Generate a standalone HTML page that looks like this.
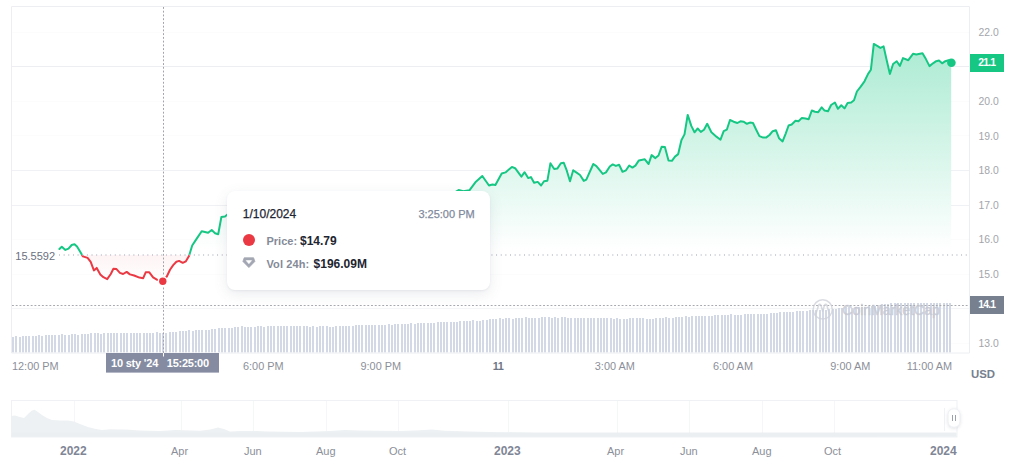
<!DOCTYPE html>
<html><head><meta charset="utf-8"><title>Chart</title>
<style>
html,body{margin:0;padding:0;background:#fff;}
body{width:1024px;height:473px;position:relative;overflow:hidden;font-family:"Liberation Sans",sans-serif;}
svg{position:absolute;left:0;top:0;}
.yl{position:absolute;left:978.5px;font-size:10.4px;line-height:14px;color:#a3a5ab;white-space:nowrap;}
.xl{position:absolute;top:359px;font-size:10.9px;line-height:14px;color:#8c8f99;white-space:nowrap;}
.xl.b{font-weight:bold;color:#707685;letter-spacing:-0.6px;}
.nl{position:absolute;top:444px;font-size:11px;line-height:14px;color:#8c8f99;white-space:nowrap;}
.nl.b{font-weight:bold;color:#7f8696;font-size:12px;}
.tag{position:absolute;left:970px;width:33.5px;height:17.5px;color:#fff;font-weight:bold;font-size:10.4px;line-height:17.5px;text-align:center;letter-spacing:-0.8px;}
#tip{position:absolute;left:227px;top:190.8px;width:262.8px;height:99.2px;background:#fff;border-radius:8px;box-shadow:0 1px 2px rgba(128,138,157,.12),0 4px 14px rgba(88,102,126,.12);}
#tip div{position:absolute;white-space:nowrap;line-height:14px;}
</style></head><body>
<svg width="1024" height="473" viewBox="0 0 1024 473">
<defs>
<linearGradient id="gg" gradientUnits="userSpaceOnUse" x1="0" y1="40" x2="0" y2="250"><stop offset="0" stop-color="#16c784" stop-opacity="0.37"/><stop offset="1" stop-color="#16c784" stop-opacity="0"/></linearGradient>
<linearGradient id="rg" gradientUnits="userSpaceOnUse" x1="0" y1="255" x2="0" y2="284"><stop offset="0" stop-color="#ea3943" stop-opacity="0.055"/><stop offset="1" stop-color="#ea3943" stop-opacity="0.0"/></linearGradient>
<filter id="sh" x="-50%" y="-50%" width="200%" height="200%"><feDropShadow dx="0" dy="1" stdDeviation="1.5" flood-color="#58667e" flood-opacity="0.18"/></filter>
<clipPath id="up"><rect x="0" y="0" width="1024" height="255.0"/></clipPath>
<clipPath id="dn"><rect x="0" y="255.0" width="1024" height="120"/></clipPath>
</defs>
<line x1="12" x2="969" y1="343.5" y2="343.5" stroke="#eceef2" stroke-opacity="0.18" stroke-width="1"/><line x1="12" x2="969" y1="308.5" y2="308.5" stroke="#eceef2" stroke-opacity="0.6" stroke-width="1"/><line x1="12" x2="969" y1="274.5" y2="274.5" stroke="#eceef2" stroke-opacity="0.18" stroke-width="1"/><line x1="12" x2="969" y1="239.5" y2="239.5" stroke="#eceef2" stroke-opacity="0.18" stroke-width="1"/><line x1="12" x2="969" y1="205.5" y2="205.5" stroke="#eceef2" stroke-opacity="0.85" stroke-width="1"/><line x1="12" x2="969" y1="170.5" y2="170.5" stroke="#eceef2" stroke-opacity="0.85" stroke-width="1"/><line x1="12" x2="969" y1="135.5" y2="135.5" stroke="#eceef2" stroke-opacity="0.18" stroke-width="1"/><line x1="12" x2="969" y1="101.5" y2="101.5" stroke="#eceef2" stroke-opacity="0.18" stroke-width="1"/><line x1="12" x2="969" y1="66.5" y2="66.5" stroke="#eceef2" stroke-opacity="1.0" stroke-width="1"/><line x1="12" x2="969" y1="32.5" y2="32.5" stroke="#eceef2" stroke-opacity="0.18" stroke-width="1"/>
<g fill="#cdd4e2" fill-opacity="0.9"><rect x="12" y="337" width="2" height="15.5"/><rect x="15" y="336" width="2" height="16.5"/><rect x="19" y="337" width="2" height="15.5"/><rect x="22" y="336" width="2" height="16.5"/><rect x="25" y="336" width="2" height="16.5"/><rect x="28" y="336" width="2" height="16.5"/><rect x="32" y="336" width="2" height="16.5"/><rect x="35" y="336" width="2" height="16.5"/><rect x="38" y="335" width="2" height="17.5"/><rect x="41" y="336" width="2" height="16.5"/><rect x="45" y="335" width="2" height="17.5"/><rect x="48" y="335" width="2" height="17.5"/><rect x="51" y="335" width="2" height="17.5"/><rect x="54" y="335" width="2" height="17.5"/><rect x="58" y="335" width="2" height="17.5"/><rect x="61" y="334" width="2" height="18.5"/><rect x="64" y="335" width="2" height="17.5"/><rect x="68" y="335" width="2" height="17.5"/><rect x="71" y="334" width="2" height="18.5"/><rect x="74" y="334" width="2" height="18.5"/><rect x="77" y="335" width="2" height="17.5"/><rect x="81" y="334" width="2" height="18.5"/><rect x="84" y="334" width="2" height="18.5"/><rect x="87" y="334" width="2" height="18.5"/><rect x="90" y="333" width="2" height="19.5"/><rect x="94" y="333" width="2" height="19.5"/><rect x="97" y="333" width="2" height="19.5"/><rect x="100" y="334" width="2" height="18.5"/><rect x="103" y="333" width="2" height="19.5"/><rect x="107" y="333" width="2" height="19.5"/><rect x="110" y="333" width="2" height="19.5"/><rect x="113" y="333" width="2" height="19.5"/><rect x="116" y="333" width="2" height="19.5"/><rect x="120" y="333" width="2" height="19.5"/><rect x="123" y="333" width="2" height="19.5"/><rect x="126" y="333" width="2" height="19.5"/><rect x="130" y="333" width="2" height="19.5"/><rect x="133" y="333" width="2" height="19.5"/><rect x="136" y="333" width="2" height="19.5"/><rect x="139" y="333" width="2" height="19.5"/><rect x="143" y="333" width="2" height="19.5"/><rect x="146" y="333" width="2" height="19.5"/><rect x="149" y="333" width="2" height="19.5"/><rect x="152" y="333" width="2" height="19.5"/><rect x="156" y="332" width="2" height="20.5"/><rect x="159" y="333" width="2" height="19.5"/><rect x="162" y="333" width="2" height="19.5"/><rect x="165" y="333" width="2" height="19.5"/><rect x="169" y="332" width="2" height="20.5"/><rect x="172" y="332" width="2" height="20.5"/><rect x="175" y="332" width="2" height="20.5"/><rect x="179" y="331" width="2" height="21.5"/><rect x="182" y="331" width="2" height="21.5"/><rect x="185" y="331" width="2" height="21.5"/><rect x="188" y="330" width="2" height="22.5"/><rect x="192" y="331" width="2" height="21.5"/><rect x="195" y="330" width="2" height="22.5"/><rect x="198" y="330" width="2" height="22.5"/><rect x="201" y="330" width="2" height="22.5"/><rect x="205" y="330" width="2" height="22.5"/><rect x="208" y="330" width="2" height="22.5"/><rect x="211" y="329" width="2" height="23.5"/><rect x="214" y="329" width="2" height="23.5"/><rect x="218" y="328" width="2" height="24.5"/><rect x="221" y="328" width="2" height="24.5"/><rect x="224" y="328" width="2" height="24.5"/><rect x="228" y="328" width="2" height="24.5"/><rect x="231" y="328" width="2" height="24.5"/><rect x="234" y="327" width="2" height="25.5"/><rect x="237" y="327" width="2" height="25.5"/><rect x="241" y="326" width="2" height="26.5"/><rect x="244" y="327" width="2" height="25.5"/><rect x="247" y="327" width="2" height="25.5"/><rect x="250" y="327" width="2" height="25.5"/><rect x="254" y="327" width="2" height="25.5"/><rect x="257" y="326" width="2" height="26.5"/><rect x="260" y="326" width="2" height="26.5"/><rect x="263" y="327" width="2" height="25.5"/><rect x="267" y="326" width="2" height="26.5"/><rect x="270" y="326" width="2" height="26.5"/><rect x="273" y="326" width="2" height="26.5"/><rect x="277" y="326" width="2" height="26.5"/><rect x="280" y="326" width="2" height="26.5"/><rect x="283" y="326" width="2" height="26.5"/><rect x="286" y="326" width="2" height="26.5"/><rect x="290" y="326" width="2" height="26.5"/><rect x="293" y="326" width="2" height="26.5"/><rect x="296" y="326" width="2" height="26.5"/><rect x="299" y="326" width="2" height="26.5"/><rect x="303" y="326" width="2" height="26.5"/><rect x="306" y="326" width="2" height="26.5"/><rect x="309" y="327" width="2" height="25.5"/><rect x="312" y="326" width="2" height="26.5"/><rect x="316" y="327" width="2" height="25.5"/><rect x="319" y="326" width="2" height="26.5"/><rect x="322" y="326" width="2" height="26.5"/><rect x="326" y="326" width="2" height="26.5"/><rect x="329" y="327" width="2" height="25.5"/><rect x="332" y="327" width="2" height="25.5"/><rect x="335" y="326" width="2" height="26.5"/><rect x="339" y="326" width="2" height="26.5"/><rect x="342" y="326" width="2" height="26.5"/><rect x="345" y="326" width="2" height="26.5"/><rect x="348" y="326" width="2" height="26.5"/><rect x="352" y="326" width="2" height="26.5"/><rect x="355" y="325" width="2" height="27.5"/><rect x="358" y="325" width="2" height="27.5"/><rect x="361" y="325" width="2" height="27.5"/><rect x="365" y="325" width="2" height="27.5"/><rect x="368" y="325" width="2" height="27.5"/><rect x="371" y="325" width="2" height="27.5"/><rect x="374" y="325" width="2" height="27.5"/><rect x="378" y="325" width="2" height="27.5"/><rect x="381" y="325" width="2" height="27.5"/><rect x="384" y="325" width="2" height="27.5"/><rect x="388" y="324" width="2" height="28.5"/><rect x="391" y="325" width="2" height="27.5"/><rect x="394" y="324" width="2" height="28.5"/><rect x="397" y="324" width="2" height="28.5"/><rect x="401" y="324" width="2" height="28.5"/><rect x="404" y="324" width="2" height="28.5"/><rect x="407" y="324" width="2" height="28.5"/><rect x="410" y="323" width="2" height="29.5"/><rect x="414" y="324" width="2" height="28.5"/><rect x="417" y="323" width="2" height="29.5"/><rect x="420" y="323" width="2" height="29.5"/><rect x="423" y="323" width="2" height="29.5"/><rect x="427" y="323" width="2" height="29.5"/><rect x="430" y="323" width="2" height="29.5"/><rect x="433" y="323" width="2" height="29.5"/><rect x="437" y="322" width="2" height="30.5"/><rect x="440" y="322" width="2" height="30.5"/><rect x="443" y="322" width="2" height="30.5"/><rect x="446" y="322" width="2" height="30.5"/><rect x="450" y="322" width="2" height="30.5"/><rect x="453" y="322" width="2" height="30.5"/><rect x="456" y="322" width="2" height="30.5"/><rect x="459" y="321" width="2" height="31.5"/><rect x="463" y="321" width="2" height="31.5"/><rect x="466" y="321" width="2" height="31.5"/><rect x="469" y="321" width="2" height="31.5"/><rect x="472" y="320" width="2" height="32.5"/><rect x="476" y="321" width="2" height="31.5"/><rect x="479" y="321" width="2" height="31.5"/><rect x="482" y="320" width="2" height="32.5"/><rect x="486" y="320" width="2" height="32.5"/><rect x="489" y="319" width="2" height="33.5"/><rect x="492" y="319" width="2" height="33.5"/><rect x="495" y="319" width="2" height="33.5"/><rect x="499" y="318" width="2" height="34.5"/><rect x="502" y="319" width="2" height="33.5"/><rect x="505" y="318" width="2" height="34.5"/><rect x="508" y="318" width="2" height="34.5"/><rect x="512" y="319" width="2" height="33.5"/><rect x="515" y="318" width="2" height="34.5"/><rect x="518" y="318" width="2" height="34.5"/><rect x="521" y="318" width="2" height="34.5"/><rect x="525" y="317" width="2" height="35.5"/><rect x="528" y="318" width="2" height="34.5"/><rect x="531" y="318" width="2" height="34.5"/><rect x="534" y="318" width="2" height="34.5"/><rect x="538" y="318" width="2" height="34.5"/><rect x="541" y="317" width="2" height="35.5"/><rect x="544" y="317" width="2" height="35.5"/><rect x="548" y="317" width="2" height="35.5"/><rect x="551" y="318" width="2" height="34.5"/><rect x="554" y="317" width="2" height="35.5"/><rect x="557" y="318" width="2" height="34.5"/><rect x="561" y="317" width="2" height="35.5"/><rect x="564" y="317" width="2" height="35.5"/><rect x="567" y="318" width="2" height="34.5"/><rect x="570" y="318" width="2" height="34.5"/><rect x="574" y="318" width="2" height="34.5"/><rect x="577" y="318" width="2" height="34.5"/><rect x="580" y="318" width="2" height="34.5"/><rect x="583" y="318" width="2" height="34.5"/><rect x="587" y="318" width="2" height="34.5"/><rect x="590" y="318" width="2" height="34.5"/><rect x="593" y="318" width="2" height="34.5"/><rect x="597" y="318" width="2" height="34.5"/><rect x="600" y="318" width="2" height="34.5"/><rect x="603" y="318" width="2" height="34.5"/><rect x="606" y="318" width="2" height="34.5"/><rect x="610" y="318" width="2" height="34.5"/><rect x="613" y="319" width="2" height="33.5"/><rect x="616" y="318" width="2" height="34.5"/><rect x="619" y="319" width="2" height="33.5"/><rect x="623" y="319" width="2" height="33.5"/><rect x="626" y="319" width="2" height="33.5"/><rect x="629" y="318" width="2" height="34.5"/><rect x="632" y="318" width="2" height="34.5"/><rect x="636" y="318" width="2" height="34.5"/><rect x="639" y="318" width="2" height="34.5"/><rect x="642" y="318" width="2" height="34.5"/><rect x="646" y="319" width="2" height="33.5"/><rect x="649" y="319" width="2" height="33.5"/><rect x="652" y="319" width="2" height="33.5"/><rect x="655" y="318" width="2" height="34.5"/><rect x="659" y="318" width="2" height="34.5"/><rect x="662" y="318" width="2" height="34.5"/><rect x="665" y="317" width="2" height="35.5"/><rect x="668" y="318" width="2" height="34.5"/><rect x="672" y="318" width="2" height="34.5"/><rect x="675" y="317" width="2" height="35.5"/><rect x="678" y="317" width="2" height="35.5"/><rect x="681" y="317" width="2" height="35.5"/><rect x="685" y="316" width="2" height="36.5"/><rect x="688" y="317" width="2" height="35.5"/><rect x="691" y="316" width="2" height="36.5"/><rect x="695" y="316" width="2" height="36.5"/><rect x="698" y="316" width="2" height="36.5"/><rect x="701" y="316" width="2" height="36.5"/><rect x="704" y="316" width="2" height="36.5"/><rect x="708" y="316" width="2" height="36.5"/><rect x="711" y="316" width="2" height="36.5"/><rect x="714" y="315" width="2" height="37.5"/><rect x="717" y="315" width="2" height="37.5"/><rect x="721" y="315" width="2" height="37.5"/><rect x="724" y="315" width="2" height="37.5"/><rect x="727" y="315" width="2" height="37.5"/><rect x="730" y="314" width="2" height="38.5"/><rect x="734" y="315" width="2" height="37.5"/><rect x="737" y="315" width="2" height="37.5"/><rect x="740" y="315" width="2" height="37.5"/><rect x="744" y="314" width="2" height="38.5"/><rect x="747" y="314" width="2" height="38.5"/><rect x="750" y="314" width="2" height="38.5"/><rect x="753" y="314" width="2" height="38.5"/><rect x="757" y="314" width="2" height="38.5"/><rect x="760" y="314" width="2" height="38.5"/><rect x="763" y="314" width="2" height="38.5"/><rect x="766" y="314" width="2" height="38.5"/><rect x="770" y="313" width="2" height="39.5"/><rect x="773" y="313" width="2" height="39.5"/><rect x="776" y="313" width="2" height="39.5"/><rect x="779" y="312" width="2" height="40.5"/><rect x="783" y="312" width="2" height="40.5"/><rect x="786" y="312" width="2" height="40.5"/><rect x="789" y="312" width="2" height="40.5"/><rect x="792" y="312" width="2" height="40.5"/><rect x="796" y="311" width="2" height="41.5"/><rect x="799" y="311" width="2" height="41.5"/><rect x="802" y="311" width="2" height="41.5"/><rect x="806" y="311" width="2" height="41.5"/><rect x="809" y="310" width="2" height="42.5"/><rect x="812" y="310" width="2" height="42.5"/><rect x="815" y="310" width="2" height="42.5"/><rect x="819" y="310" width="2" height="42.5"/><rect x="822" y="309" width="2" height="43.5"/><rect x="825" y="310" width="2" height="42.5"/><rect x="828" y="309" width="2" height="43.5"/><rect x="832" y="309" width="2" height="43.5"/><rect x="835" y="309" width="2" height="43.5"/><rect x="838" y="308" width="2" height="44.5"/><rect x="841" y="308" width="2" height="44.5"/><rect x="845" y="307" width="2" height="45.5"/><rect x="848" y="307" width="2" height="45.5"/><rect x="851" y="308" width="2" height="44.5"/><rect x="855" y="307" width="2" height="45.5"/><rect x="858" y="307" width="2" height="45.5"/><rect x="861" y="307" width="2" height="45.5"/><rect x="864" y="307" width="2" height="45.5"/><rect x="868" y="306" width="2" height="46.5"/><rect x="871" y="306" width="2" height="46.5"/><rect x="874" y="306" width="2" height="46.5"/><rect x="877" y="305" width="2" height="47.5"/><rect x="881" y="304" width="2" height="48.5"/><rect x="884" y="304" width="2" height="48.5"/><rect x="887" y="304" width="2" height="48.5"/><rect x="890" y="303" width="2" height="49.5"/><rect x="894" y="303" width="2" height="49.5"/><rect x="897" y="303" width="2" height="49.5"/><rect x="900" y="303" width="2" height="49.5"/><rect x="904" y="303" width="2" height="49.5"/><rect x="907" y="303" width="2" height="49.5"/><rect x="910" y="303" width="2" height="49.5"/><rect x="913" y="303" width="2" height="49.5"/><rect x="917" y="303" width="2" height="49.5"/><rect x="920" y="303" width="2" height="49.5"/><rect x="923" y="303" width="2" height="49.5"/><rect x="926" y="303" width="2" height="49.5"/><rect x="930" y="303" width="2" height="49.5"/><rect x="933" y="303" width="2" height="49.5"/><rect x="936" y="303" width="2" height="49.5"/><rect x="939" y="303" width="2" height="49.5"/><rect x="943" y="303" width="2" height="49.5"/><rect x="946" y="303" width="2" height="49.5"/><rect x="949" y="303" width="2" height="49.5"/></g>
<path d="M59.4,249.0 L61.8,246.7 L65.4,249.9 L68.5,248.6 L71.7,245.0 L74.5,244.2 L77.0,246.5 L80.2,251.8 L82.9,256.4 L87.6,257.9 L90.7,261.9 L93.9,270.4 L96.7,267.9 L100.3,274.4 L103.4,277.2 L107.2,279.1 L110.8,274.0 L113.4,268.7 L116.5,269.1 L119.9,272.9 L123.1,274.0 L126.7,271.9 L129.9,274.4 L134.1,275.5 L139.4,277.6 L143.2,278.2 L145.7,272.3 L149.3,272.3 L153.1,277.4 L157.3,279.9 L162.6,281.2 L166.8,276.5 L170.0,269.8 L173.2,265.1 L176.4,261.7 L179.1,260.9 L182.7,262.8 L185.9,261.3 L189.0,256.0 L192.2,245.5 L196.4,239.1 L201.7,231.3 L208.1,232.8 L211.7,230.0 L215.1,233.2 L218.2,234.2 L221.4,216.9 L225.0,216.5 L227.1,214.8 L232.0,213.0 L238.0,215.0 L244.0,210.0 L250.0,212.0 L258.0,207.0 L266.0,209.0 L274.0,204.0 L282.0,206.0 L290.0,203.0 L298.0,205.0 L306.0,201.0 L314.0,203.0 L322.0,199.0 L330.0,202.0 L338.0,198.0 L346.0,200.0 L354.0,197.0 L362.0,199.0 L370.0,196.0 L378.0,198.0 L386.0,195.0 L394.0,197.0 L402.0,194.0 L410.0,196.0 L418.0,194.0 L426.0,196.0 L434.0,194.0 L442.0,195.0 L452.0,194.0 L458.6,190.0 L463.3,191.2 L469.6,190.2 L475.9,181.7 L482.3,176.0 L489.0,185.5 L492.4,184.5 L495.4,185.1 L501.7,173.5 L505.5,172.4 L511.9,166.9 L515.1,168.2 L521.4,176.7 L524.6,172.2 L528.2,178.1 L530.9,177.1 L534.1,182.8 L537.7,181.9 L541.1,185.5 L544.0,181.3 L547.4,180.7 L550.4,163.3 L554.2,169.0 L557.3,168.6 L560.9,163.3 L563.7,162.7 L566.8,170.7 L570.0,181.3 L573.2,170.3 L577.0,172.9 L580.0,175.0 L583.8,180.9 L586.3,179.6 L593.3,164.0 L596.4,166.1 L602.8,173.9 L606.0,172.4 L609.8,166.5 L612.7,164.4 L615.9,165.9 L619.1,164.8 L622.5,171.8 L626.0,170.3 L629.2,165.5 L632.4,167.6 L635.4,165.6 L638.9,160.4 L644.8,159.3 L648.6,164.0 L651.6,155.1 L655.4,158.1 L658.5,155.5 L661.7,146.7 L664.9,147.1 L668.5,160.4 L671.9,160.8 L675.0,156.6 L678.2,154.1 L681.4,140.3 L684.5,134.4 L687.7,114.9 L691.3,125.9 L694.5,132.3 L697.7,128.5 L700.8,131.9 L704.0,129.7 L707.2,123.8 L711.4,132.3 L716.7,136.9 L720.5,139.7 L723.7,131.2 L726.8,129.7 L730.0,120.0 L733.6,121.7 L737.4,123.0 L740.4,121.3 L743.5,121.7 L746.9,123.8 L749.9,122.6 L753.0,123.0 L756.2,129.7 L759.4,136.1 L763.2,137.6 L766.4,137.4 L769.5,135.0 L772.7,131.2 L775.9,130.2 L779.0,138.2 L782.6,141.4 L785.8,133.3 L788.6,125.5 L791.7,124.5 L795.5,120.7 L798.5,121.3 L801.9,117.9 L805.5,118.5 L808.7,119.2 L811.8,110.5 L815.0,111.8 L818.2,112.2 L821.7,107.4 L824.6,110.6 L828.0,111.3 L831.1,105.0 L834.9,102.5 L837.9,108.8 L841.3,105.2 L844.5,108.4 L847.6,102.9 L851.2,102.5 L854.0,100.3 L856.9,91.5 L860.7,86.6 L864.5,81.3 L868.1,73.9 L870.9,69.7 L873.8,43.9 L877.2,45.8 L880.4,47.9 L883.6,46.4 L886.7,60.2 L889.9,73.9 L893.1,64.0 L896.7,61.2 L899.9,65.9 L903.0,58.1 L908.3,60.2 L913.0,53.8 L916.3,54.5 L922.5,53.2 L925.9,59.1 L929.5,66.1 L933.0,63.3 L936.2,61.2 L939.0,60.6 L942.1,63.3 L945.3,61.2 L948.5,60.2 L951.2,62.7 L951.2,255.0 L59.4,255.0 Z" fill="#fff" clip-path="url(#up)"/>
<path d="M59.4,249.0 L61.8,246.7 L65.4,249.9 L68.5,248.6 L71.7,245.0 L74.5,244.2 L77.0,246.5 L80.2,251.8 L82.9,256.4 L87.6,257.9 L90.7,261.9 L93.9,270.4 L96.7,267.9 L100.3,274.4 L103.4,277.2 L107.2,279.1 L110.8,274.0 L113.4,268.7 L116.5,269.1 L119.9,272.9 L123.1,274.0 L126.7,271.9 L129.9,274.4 L134.1,275.5 L139.4,277.6 L143.2,278.2 L145.7,272.3 L149.3,272.3 L153.1,277.4 L157.3,279.9 L162.6,281.2 L166.8,276.5 L170.0,269.8 L173.2,265.1 L176.4,261.7 L179.1,260.9 L182.7,262.8 L185.9,261.3 L189.0,256.0 L192.2,245.5 L196.4,239.1 L201.7,231.3 L208.1,232.8 L211.7,230.0 L215.1,233.2 L218.2,234.2 L221.4,216.9 L225.0,216.5 L227.1,214.8 L232.0,213.0 L238.0,215.0 L244.0,210.0 L250.0,212.0 L258.0,207.0 L266.0,209.0 L274.0,204.0 L282.0,206.0 L290.0,203.0 L298.0,205.0 L306.0,201.0 L314.0,203.0 L322.0,199.0 L330.0,202.0 L338.0,198.0 L346.0,200.0 L354.0,197.0 L362.0,199.0 L370.0,196.0 L378.0,198.0 L386.0,195.0 L394.0,197.0 L402.0,194.0 L410.0,196.0 L418.0,194.0 L426.0,196.0 L434.0,194.0 L442.0,195.0 L452.0,194.0 L458.6,190.0 L463.3,191.2 L469.6,190.2 L475.9,181.7 L482.3,176.0 L489.0,185.5 L492.4,184.5 L495.4,185.1 L501.7,173.5 L505.5,172.4 L511.9,166.9 L515.1,168.2 L521.4,176.7 L524.6,172.2 L528.2,178.1 L530.9,177.1 L534.1,182.8 L537.7,181.9 L541.1,185.5 L544.0,181.3 L547.4,180.7 L550.4,163.3 L554.2,169.0 L557.3,168.6 L560.9,163.3 L563.7,162.7 L566.8,170.7 L570.0,181.3 L573.2,170.3 L577.0,172.9 L580.0,175.0 L583.8,180.9 L586.3,179.6 L593.3,164.0 L596.4,166.1 L602.8,173.9 L606.0,172.4 L609.8,166.5 L612.7,164.4 L615.9,165.9 L619.1,164.8 L622.5,171.8 L626.0,170.3 L629.2,165.5 L632.4,167.6 L635.4,165.6 L638.9,160.4 L644.8,159.3 L648.6,164.0 L651.6,155.1 L655.4,158.1 L658.5,155.5 L661.7,146.7 L664.9,147.1 L668.5,160.4 L671.9,160.8 L675.0,156.6 L678.2,154.1 L681.4,140.3 L684.5,134.4 L687.7,114.9 L691.3,125.9 L694.5,132.3 L697.7,128.5 L700.8,131.9 L704.0,129.7 L707.2,123.8 L711.4,132.3 L716.7,136.9 L720.5,139.7 L723.7,131.2 L726.8,129.7 L730.0,120.0 L733.6,121.7 L737.4,123.0 L740.4,121.3 L743.5,121.7 L746.9,123.8 L749.9,122.6 L753.0,123.0 L756.2,129.7 L759.4,136.1 L763.2,137.6 L766.4,137.4 L769.5,135.0 L772.7,131.2 L775.9,130.2 L779.0,138.2 L782.6,141.4 L785.8,133.3 L788.6,125.5 L791.7,124.5 L795.5,120.7 L798.5,121.3 L801.9,117.9 L805.5,118.5 L808.7,119.2 L811.8,110.5 L815.0,111.8 L818.2,112.2 L821.7,107.4 L824.6,110.6 L828.0,111.3 L831.1,105.0 L834.9,102.5 L837.9,108.8 L841.3,105.2 L844.5,108.4 L847.6,102.9 L851.2,102.5 L854.0,100.3 L856.9,91.5 L860.7,86.6 L864.5,81.3 L868.1,73.9 L870.9,69.7 L873.8,43.9 L877.2,45.8 L880.4,47.9 L883.6,46.4 L886.7,60.2 L889.9,73.9 L893.1,64.0 L896.7,61.2 L899.9,65.9 L903.0,58.1 L908.3,60.2 L913.0,53.8 L916.3,54.5 L922.5,53.2 L925.9,59.1 L929.5,66.1 L933.0,63.3 L936.2,61.2 L939.0,60.6 L942.1,63.3 L945.3,61.2 L948.5,60.2 L951.2,62.7 L951.2,255.0 L59.4,255.0 Z" fill="url(#gg)" clip-path="url(#up)"/>
<path d="M59.4,249.0 L61.8,246.7 L65.4,249.9 L68.5,248.6 L71.7,245.0 L74.5,244.2 L77.0,246.5 L80.2,251.8 L82.9,256.4 L87.6,257.9 L90.7,261.9 L93.9,270.4 L96.7,267.9 L100.3,274.4 L103.4,277.2 L107.2,279.1 L110.8,274.0 L113.4,268.7 L116.5,269.1 L119.9,272.9 L123.1,274.0 L126.7,271.9 L129.9,274.4 L134.1,275.5 L139.4,277.6 L143.2,278.2 L145.7,272.3 L149.3,272.3 L153.1,277.4 L157.3,279.9 L162.6,281.2 L166.8,276.5 L170.0,269.8 L173.2,265.1 L176.4,261.7 L179.1,260.9 L182.7,262.8 L185.9,261.3 L189.0,256.0 L192.2,245.5 L196.4,239.1 L201.7,231.3 L208.1,232.8 L211.7,230.0 L215.1,233.2 L218.2,234.2 L221.4,216.9 L225.0,216.5 L227.1,214.8 L232.0,213.0 L238.0,215.0 L244.0,210.0 L250.0,212.0 L258.0,207.0 L266.0,209.0 L274.0,204.0 L282.0,206.0 L290.0,203.0 L298.0,205.0 L306.0,201.0 L314.0,203.0 L322.0,199.0 L330.0,202.0 L338.0,198.0 L346.0,200.0 L354.0,197.0 L362.0,199.0 L370.0,196.0 L378.0,198.0 L386.0,195.0 L394.0,197.0 L402.0,194.0 L410.0,196.0 L418.0,194.0 L426.0,196.0 L434.0,194.0 L442.0,195.0 L452.0,194.0 L458.6,190.0 L463.3,191.2 L469.6,190.2 L475.9,181.7 L482.3,176.0 L489.0,185.5 L492.4,184.5 L495.4,185.1 L501.7,173.5 L505.5,172.4 L511.9,166.9 L515.1,168.2 L521.4,176.7 L524.6,172.2 L528.2,178.1 L530.9,177.1 L534.1,182.8 L537.7,181.9 L541.1,185.5 L544.0,181.3 L547.4,180.7 L550.4,163.3 L554.2,169.0 L557.3,168.6 L560.9,163.3 L563.7,162.7 L566.8,170.7 L570.0,181.3 L573.2,170.3 L577.0,172.9 L580.0,175.0 L583.8,180.9 L586.3,179.6 L593.3,164.0 L596.4,166.1 L602.8,173.9 L606.0,172.4 L609.8,166.5 L612.7,164.4 L615.9,165.9 L619.1,164.8 L622.5,171.8 L626.0,170.3 L629.2,165.5 L632.4,167.6 L635.4,165.6 L638.9,160.4 L644.8,159.3 L648.6,164.0 L651.6,155.1 L655.4,158.1 L658.5,155.5 L661.7,146.7 L664.9,147.1 L668.5,160.4 L671.9,160.8 L675.0,156.6 L678.2,154.1 L681.4,140.3 L684.5,134.4 L687.7,114.9 L691.3,125.9 L694.5,132.3 L697.7,128.5 L700.8,131.9 L704.0,129.7 L707.2,123.8 L711.4,132.3 L716.7,136.9 L720.5,139.7 L723.7,131.2 L726.8,129.7 L730.0,120.0 L733.6,121.7 L737.4,123.0 L740.4,121.3 L743.5,121.7 L746.9,123.8 L749.9,122.6 L753.0,123.0 L756.2,129.7 L759.4,136.1 L763.2,137.6 L766.4,137.4 L769.5,135.0 L772.7,131.2 L775.9,130.2 L779.0,138.2 L782.6,141.4 L785.8,133.3 L788.6,125.5 L791.7,124.5 L795.5,120.7 L798.5,121.3 L801.9,117.9 L805.5,118.5 L808.7,119.2 L811.8,110.5 L815.0,111.8 L818.2,112.2 L821.7,107.4 L824.6,110.6 L828.0,111.3 L831.1,105.0 L834.9,102.5 L837.9,108.8 L841.3,105.2 L844.5,108.4 L847.6,102.9 L851.2,102.5 L854.0,100.3 L856.9,91.5 L860.7,86.6 L864.5,81.3 L868.1,73.9 L870.9,69.7 L873.8,43.9 L877.2,45.8 L880.4,47.9 L883.6,46.4 L886.7,60.2 L889.9,73.9 L893.1,64.0 L896.7,61.2 L899.9,65.9 L903.0,58.1 L908.3,60.2 L913.0,53.8 L916.3,54.5 L922.5,53.2 L925.9,59.1 L929.5,66.1 L933.0,63.3 L936.2,61.2 L939.0,60.6 L942.1,63.3 L945.3,61.2 L948.5,60.2 L951.2,62.7 L951.2,255.0 L59.4,255.0 Z" fill="url(#rg)" clip-path="url(#dn)"/>
<path d="M59.4,249.0 L61.8,246.7 L65.4,249.9 L68.5,248.6 L71.7,245.0 L74.5,244.2 L77.0,246.5 L80.2,251.8 L82.9,256.4 L87.6,257.9 L90.7,261.9 L93.9,270.4 L96.7,267.9 L100.3,274.4 L103.4,277.2 L107.2,279.1 L110.8,274.0 L113.4,268.7 L116.5,269.1 L119.9,272.9 L123.1,274.0 L126.7,271.9 L129.9,274.4 L134.1,275.5 L139.4,277.6 L143.2,278.2 L145.7,272.3 L149.3,272.3 L153.1,277.4 L157.3,279.9 L162.6,281.2 L166.8,276.5 L170.0,269.8 L173.2,265.1 L176.4,261.7 L179.1,260.9 L182.7,262.8 L185.9,261.3 L189.0,256.0 L192.2,245.5 L196.4,239.1 L201.7,231.3 L208.1,232.8 L211.7,230.0 L215.1,233.2 L218.2,234.2 L221.4,216.9 L225.0,216.5 L227.1,214.8 L232.0,213.0 L238.0,215.0 L244.0,210.0 L250.0,212.0 L258.0,207.0 L266.0,209.0 L274.0,204.0 L282.0,206.0 L290.0,203.0 L298.0,205.0 L306.0,201.0 L314.0,203.0 L322.0,199.0 L330.0,202.0 L338.0,198.0 L346.0,200.0 L354.0,197.0 L362.0,199.0 L370.0,196.0 L378.0,198.0 L386.0,195.0 L394.0,197.0 L402.0,194.0 L410.0,196.0 L418.0,194.0 L426.0,196.0 L434.0,194.0 L442.0,195.0 L452.0,194.0 L458.6,190.0 L463.3,191.2 L469.6,190.2 L475.9,181.7 L482.3,176.0 L489.0,185.5 L492.4,184.5 L495.4,185.1 L501.7,173.5 L505.5,172.4 L511.9,166.9 L515.1,168.2 L521.4,176.7 L524.6,172.2 L528.2,178.1 L530.9,177.1 L534.1,182.8 L537.7,181.9 L541.1,185.5 L544.0,181.3 L547.4,180.7 L550.4,163.3 L554.2,169.0 L557.3,168.6 L560.9,163.3 L563.7,162.7 L566.8,170.7 L570.0,181.3 L573.2,170.3 L577.0,172.9 L580.0,175.0 L583.8,180.9 L586.3,179.6 L593.3,164.0 L596.4,166.1 L602.8,173.9 L606.0,172.4 L609.8,166.5 L612.7,164.4 L615.9,165.9 L619.1,164.8 L622.5,171.8 L626.0,170.3 L629.2,165.5 L632.4,167.6 L635.4,165.6 L638.9,160.4 L644.8,159.3 L648.6,164.0 L651.6,155.1 L655.4,158.1 L658.5,155.5 L661.7,146.7 L664.9,147.1 L668.5,160.4 L671.9,160.8 L675.0,156.6 L678.2,154.1 L681.4,140.3 L684.5,134.4 L687.7,114.9 L691.3,125.9 L694.5,132.3 L697.7,128.5 L700.8,131.9 L704.0,129.7 L707.2,123.8 L711.4,132.3 L716.7,136.9 L720.5,139.7 L723.7,131.2 L726.8,129.7 L730.0,120.0 L733.6,121.7 L737.4,123.0 L740.4,121.3 L743.5,121.7 L746.9,123.8 L749.9,122.6 L753.0,123.0 L756.2,129.7 L759.4,136.1 L763.2,137.6 L766.4,137.4 L769.5,135.0 L772.7,131.2 L775.9,130.2 L779.0,138.2 L782.6,141.4 L785.8,133.3 L788.6,125.5 L791.7,124.5 L795.5,120.7 L798.5,121.3 L801.9,117.9 L805.5,118.5 L808.7,119.2 L811.8,110.5 L815.0,111.8 L818.2,112.2 L821.7,107.4 L824.6,110.6 L828.0,111.3 L831.1,105.0 L834.9,102.5 L837.9,108.8 L841.3,105.2 L844.5,108.4 L847.6,102.9 L851.2,102.5 L854.0,100.3 L856.9,91.5 L860.7,86.6 L864.5,81.3 L868.1,73.9 L870.9,69.7 L873.8,43.9 L877.2,45.8 L880.4,47.9 L883.6,46.4 L886.7,60.2 L889.9,73.9 L893.1,64.0 L896.7,61.2 L899.9,65.9 L903.0,58.1 L908.3,60.2 L913.0,53.8 L916.3,54.5 L922.5,53.2 L925.9,59.1 L929.5,66.1 L933.0,63.3 L936.2,61.2 L939.0,60.6 L942.1,63.3 L945.3,61.2 L948.5,60.2 L951.2,62.7" fill="none" stroke="#16c784" stroke-width="2" stroke-linejoin="round" stroke-linecap="round" clip-path="url(#up)"/>
<path d="M59.4,249.0 L61.8,246.7 L65.4,249.9 L68.5,248.6 L71.7,245.0 L74.5,244.2 L77.0,246.5 L80.2,251.8 L82.9,256.4 L87.6,257.9 L90.7,261.9 L93.9,270.4 L96.7,267.9 L100.3,274.4 L103.4,277.2 L107.2,279.1 L110.8,274.0 L113.4,268.7 L116.5,269.1 L119.9,272.9 L123.1,274.0 L126.7,271.9 L129.9,274.4 L134.1,275.5 L139.4,277.6 L143.2,278.2 L145.7,272.3 L149.3,272.3 L153.1,277.4 L157.3,279.9 L162.6,281.2 L166.8,276.5 L170.0,269.8 L173.2,265.1 L176.4,261.7 L179.1,260.9 L182.7,262.8 L185.9,261.3 L189.0,256.0 L192.2,245.5 L196.4,239.1 L201.7,231.3 L208.1,232.8 L211.7,230.0 L215.1,233.2 L218.2,234.2 L221.4,216.9 L225.0,216.5 L227.1,214.8 L232.0,213.0 L238.0,215.0 L244.0,210.0 L250.0,212.0 L258.0,207.0 L266.0,209.0 L274.0,204.0 L282.0,206.0 L290.0,203.0 L298.0,205.0 L306.0,201.0 L314.0,203.0 L322.0,199.0 L330.0,202.0 L338.0,198.0 L346.0,200.0 L354.0,197.0 L362.0,199.0 L370.0,196.0 L378.0,198.0 L386.0,195.0 L394.0,197.0 L402.0,194.0 L410.0,196.0 L418.0,194.0 L426.0,196.0 L434.0,194.0 L442.0,195.0 L452.0,194.0 L458.6,190.0 L463.3,191.2 L469.6,190.2 L475.9,181.7 L482.3,176.0 L489.0,185.5 L492.4,184.5 L495.4,185.1 L501.7,173.5 L505.5,172.4 L511.9,166.9 L515.1,168.2 L521.4,176.7 L524.6,172.2 L528.2,178.1 L530.9,177.1 L534.1,182.8 L537.7,181.9 L541.1,185.5 L544.0,181.3 L547.4,180.7 L550.4,163.3 L554.2,169.0 L557.3,168.6 L560.9,163.3 L563.7,162.7 L566.8,170.7 L570.0,181.3 L573.2,170.3 L577.0,172.9 L580.0,175.0 L583.8,180.9 L586.3,179.6 L593.3,164.0 L596.4,166.1 L602.8,173.9 L606.0,172.4 L609.8,166.5 L612.7,164.4 L615.9,165.9 L619.1,164.8 L622.5,171.8 L626.0,170.3 L629.2,165.5 L632.4,167.6 L635.4,165.6 L638.9,160.4 L644.8,159.3 L648.6,164.0 L651.6,155.1 L655.4,158.1 L658.5,155.5 L661.7,146.7 L664.9,147.1 L668.5,160.4 L671.9,160.8 L675.0,156.6 L678.2,154.1 L681.4,140.3 L684.5,134.4 L687.7,114.9 L691.3,125.9 L694.5,132.3 L697.7,128.5 L700.8,131.9 L704.0,129.7 L707.2,123.8 L711.4,132.3 L716.7,136.9 L720.5,139.7 L723.7,131.2 L726.8,129.7 L730.0,120.0 L733.6,121.7 L737.4,123.0 L740.4,121.3 L743.5,121.7 L746.9,123.8 L749.9,122.6 L753.0,123.0 L756.2,129.7 L759.4,136.1 L763.2,137.6 L766.4,137.4 L769.5,135.0 L772.7,131.2 L775.9,130.2 L779.0,138.2 L782.6,141.4 L785.8,133.3 L788.6,125.5 L791.7,124.5 L795.5,120.7 L798.5,121.3 L801.9,117.9 L805.5,118.5 L808.7,119.2 L811.8,110.5 L815.0,111.8 L818.2,112.2 L821.7,107.4 L824.6,110.6 L828.0,111.3 L831.1,105.0 L834.9,102.5 L837.9,108.8 L841.3,105.2 L844.5,108.4 L847.6,102.9 L851.2,102.5 L854.0,100.3 L856.9,91.5 L860.7,86.6 L864.5,81.3 L868.1,73.9 L870.9,69.7 L873.8,43.9 L877.2,45.8 L880.4,47.9 L883.6,46.4 L886.7,60.2 L889.9,73.9 L893.1,64.0 L896.7,61.2 L899.9,65.9 L903.0,58.1 L908.3,60.2 L913.0,53.8 L916.3,54.5 L922.5,53.2 L925.9,59.1 L929.5,66.1 L933.0,63.3 L936.2,61.2 L939.0,60.6 L942.1,63.3 L945.3,61.2 L948.5,60.2 L951.2,62.7" fill="none" stroke="#ea3943" stroke-width="2" stroke-linejoin="round" stroke-linecap="round" clip-path="url(#dn)"/>
<!-- frame -->
<path d="M11.5,353 V6.5 H969.5 V353" fill="none" stroke="#eceef2" stroke-width="1"/>
<line x1="11.5" x2="969.5" y1="353" y2="353" stroke="#eceef2" stroke-width="1"/>
<!-- baseline dotted -->
<line x1="59" x2="969" y1="255" y2="255" stroke="#b9bdc7" stroke-width="1.5" stroke-dasharray="0.95 3.7"/>
<!-- 14.1 dashed -->
<line x1="12" x2="969" y1="305.5" y2="305.5" stroke="#a8aab0" stroke-width="1" stroke-dasharray="1.9 1.84"/>
<!-- crosshair -->
<line x1="163.5" x2="163.5" y1="7" y2="353" stroke="#a2a4aa" stroke-width="1" stroke-dasharray="1.9 1.84"/>
<!-- watermark -->
<g opacity="0.75" fill="none" stroke="#cdd0d8">
<circle cx="822.7" cy="309.4" r="9.6" stroke-width="1.5"/>
<path d="M815.2,315 C816.5,313 817.5,308.5 818.6,305.2 C819.3,303.8 820.4,304.2 821,305.6 L822.7,311.2 L824.4,305.6 C825,304.2 826.1,303.8 826.8,305.2 C827.9,308.5 828.9,313 830.2,315" stroke-width="1.6" stroke-linejoin="round" stroke-linecap="round"/>
</g>
<text x="842.3" y="315" font-family="Liberation Sans, sans-serif" font-weight="normal" font-size="15" fill="#c6c9d2" fill-opacity="0.8" stroke="#c6c9d2" stroke-opacity="0.8" stroke-width="0.5" textLength="97.5" lengthAdjust="spacingAndGlyphs">CoinMarketCap</text>
<!-- dots -->
<circle cx="951.4" cy="62.7" r="4.3" fill="#16c784"/>
<circle cx="162.8" cy="281.2" r="5.2" fill="#fff"/>
<circle cx="162.8" cy="281.2" r="3.7" fill="#ea3943"/>
<!-- navigator -->
<rect x="11.5" y="400.5" width="945.5" height="36.5" fill="#fff" stroke="#eff1f4" stroke-width="1"/>
<line x1="74.5" x2="74.5" y1="401" y2="437" stroke="#f5f6f8" stroke-width="1"/><line x1="181.5" x2="181.5" y1="401" y2="437" stroke="#f5f6f8" stroke-width="1"/><line x1="253.5" x2="253.5" y1="401" y2="437" stroke="#f5f6f8" stroke-width="1"/><line x1="326.5" x2="326.5" y1="401" y2="437" stroke="#f5f6f8" stroke-width="1"/><line x1="398.5" x2="398.5" y1="401" y2="437" stroke="#f5f6f8" stroke-width="1"/><line x1="508.5" x2="508.5" y1="401" y2="437" stroke="#f5f6f8" stroke-width="1"/><line x1="617.5" x2="617.5" y1="401" y2="437" stroke="#f5f6f8" stroke-width="1"/><line x1="689.5" x2="689.5" y1="401" y2="437" stroke="#f5f6f8" stroke-width="1"/><line x1="762.5" x2="762.5" y1="401" y2="437" stroke="#f5f6f8" stroke-width="1"/><line x1="834.5" x2="834.5" y1="401" y2="437" stroke="#f5f6f8" stroke-width="1"/>
<path d="M11.5,416 L15,415.5 L20,417 L24,418 L29,413 L32,410.5 L34.5,409.8 L38,412 L42,415 L47,418 L52,420 L60,420.5 L68,420.5 L74,421.5 L80,424 L88,427 L96,429 L102,430 L110,429.3 L125,429.6 L140,430.5 L160,431 L175,430 L185,430.3 L200,430.8 L210,429.5 L218,427.6 L224,429 L230,431.5 L240,431 L255,431 L270,431.5 L300,432 L330,431 L345,430 L360,430.5 L400,431 L420,430.2 L432,429.6 L445,430.8 L470,431.5 L500,432.2 L540,433 L600,433.8 L700,434.8 L800,435.6 L900,436.2 L957,436.5 L957,437 L11.5,437 Z" fill="#eef1f3"/>
<rect x="12" y="432.5" width="944.5" height="4" fill="#eceff2"/>
<line x1="944.5" x2="944.5" y1="408" y2="431" stroke="#f0f2f5" stroke-width="1"/>
<rect x="948" y="408.8" width="12" height="18.4" rx="5.5" fill="#fff" stroke="#eceef2" stroke-width="1" filter="url(#sh)"/>
<line x1="952.5" x2="952.5" y1="415" y2="421" stroke="#9aa0ad" stroke-width="1"/>
<line x1="955.5" x2="955.5" y1="415" y2="421" stroke="#9aa0ad" stroke-width="1"/>
<!-- crosshair label -->
<rect x="106" y="353" width="113" height="19.6" fill="#858ca2"/>
<line x1="163.5" x2="163.5" y1="353" y2="356.5" stroke="#fff" stroke-width="1"/>
</svg>
<div class="yl" style="top:25.8px">22.0</div><div class="yl" style="top:95.0px">20.0</div><div class="yl" style="top:129.6px">19.0</div><div class="yl" style="top:164.2px">18.0</div><div class="yl" style="top:198.8px">17.0</div><div class="yl" style="top:233.4px">16.0</div><div class="yl" style="top:268.0px">15.0</div><div class="yl" style="top:337.2px">13.0</div>
<div class="yl" style="left:15.3px;top:249px;color:#6a7080;font-size:11px">15.5592</div>
<div class="xl" style="left:12px">12:00 PM</div><div class="xl" style="left:243px">6:00 PM</div><div class="xl" style="left:360.5px">9:00 PM</div><div class="xl b" style="left:492.8px">11</div><div class="xl" style="left:594.8px">3:00 AM</div><div class="xl" style="left:713px">6:00 AM</div><div class="xl" style="left:830.3px">9:00 AM</div><div class="xl" style="left:906.8px">11:00 AM</div>
<div style="position:absolute;left:111px;top:355.5px;font-size:11px;line-height:14px;font-weight:bold;color:#fff;white-space:nowrap;letter-spacing:-0.2px">10 sty '24</div>
<div style="position:absolute;left:166.8px;top:355.5px;font-size:11px;line-height:14px;font-weight:bold;color:#fff;white-space:nowrap;letter-spacing:-0.25px">15:25:00</div>
<div class="tag" style="top:54px;background:#16c784">21.1</div>
<div class="tag" style="top:296px;background:#76808f">14.1</div>
<div style="position:absolute;left:971px;top:367px;font-size:11.4px;line-height:14px;font-weight:bold;color:#76808f">USD</div>
<div class="nl b" style="left:60px">2022</div><div class="nl" style="left:171px">Apr</div><div class="nl" style="left:244px">Jun</div><div class="nl" style="left:316px">Aug</div><div class="nl" style="left:389px">Oct</div><div class="nl b" style="left:494px">2023</div><div class="nl" style="left:607px">Apr</div><div class="nl" style="left:680px">Jun</div><div class="nl" style="left:752px">Aug</div><div class="nl" style="left:824px">Oct</div><div class="nl b" style="left:930px">2024</div>
<div id="tip">
<div style="left:15.8px;top:16px;font-size:12px;color:#222531;-webkit-text-stroke:0.25px #222531">1/10/2024</div>
<div style="left:191.4px;top:16px;font-size:11px;color:#808a9d;-webkit-text-stroke:0.25px #808a9d">3:25:00 PM</div>
<svg width="14" height="14" style="left:15px;top:42.1px"><circle cx="7" cy="7" r="6" fill="#ea3943"/></svg>
<div style="left:39.5px;top:43.4px;font-size:11px;color:#858a98;font-weight:bold">Price:</div>
<div style="left:73px;top:43.4px;font-size:12px;color:#222531;font-weight:bold">$14.79</div>
<svg width="14" height="12" style="left:14.9px;top:66px" viewBox="0 0 14 12"><path d="M2.2,0.8 H11.6 L12.9,4.4 L6.9,10.6 L0.9,4.4 Z" fill="#a3a7b3" stroke="#a3a7b3" stroke-width="0.8" stroke-linejoin="round"/><path d="M4.2,3.6 H9.6 L6.9,6.7 Z" fill="#fff" stroke="#fff" stroke-width="0.6" stroke-linejoin="round"/></svg>
<div style="left:39.5px;top:66.4px;font-size:11px;color:#858a98;font-weight:bold;letter-spacing:0.1px">Vol 24h:</div>
<div style="left:86.6px;top:66.4px;font-size:12px;color:#222531;font-weight:bold">$196.09M</div>
</div>
</body></html>
